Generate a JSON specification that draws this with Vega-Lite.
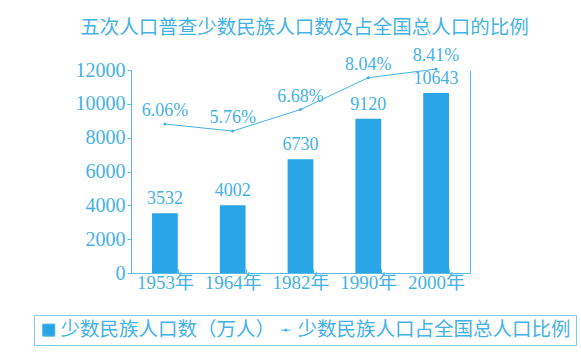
{
  "$schema": "https://vega.github.io/schema/vega-lite/v6.json",
  "autosize": {"type": "none"},
  "width": 339,
  "height": 203,
  "padding": {"left": 131, "top": 70, "right": 111, "bottom": 91},
  "background": "white",
  "title": {
    "text": "五次人口普查少数民族人口数及占全国总人口的比例",
    "font": "Noto Sans CJK SC",
    "fontSize": 19.5,
    "fontWeight": "normal",
    "color": "#45b2e6",
    "anchor": "middle",
    "offset": 9,
    "dx": 4
  },
  "config": {
    "view": {"stroke": null},
    "font": "Liberation Serif, Noto Sans CJK SC",
    "axis": {"grid": false}
  },
  "data": {
    "values": [
      {"year": "1953年", "pop": 3532, "pct": 6.06, "pctLabel": "6.06%"},
      {"year": "1964年", "pop": 4002, "pct": 5.76, "pctLabel": "5.76%"},
      {"year": "1982年", "pop": 6730, "pct": 6.68, "pctLabel": "6.68%"},
      {"year": "1990年", "pop": 9120, "pct": 8.04, "pctLabel": "8.04%"},
      {"year": "2000年", "pop": 10643, "pct": 8.41, "pctLabel": "8.41%"}
    ]
  },
  "encoding": {
    "x": {
      "field": "year",
      "type": "nominal",
      "sort": null,
      "scale": {"paddingInner": 0.62, "paddingOuter": 0.31},
      "axis": {
        "title": null,
        "labelAngle": 0,
        "labelFont": "Liberation Serif, Noto Sans CJK SC",
        "labelFontSize": 19,
        "labelColor": "#45b2e6",
        "labelPadding": 4,
        "domainColor": "#5bbbe8",
        "tickColor": "#5bbbe8",
        "tickSize": -4,
        "tickBand": "extent"
      }
    }
  },
  "layer": [
    {
      "encoding": {
        "y": {
          "field": "pop",
          "type": "quantitative",
          "scale": {"domain": [0, 12000]},
          "axis": {
            "title": null,
            "values": [0, 2000, 4000, 6000, 8000, 10000, 12000],
            "format": "d",
            "labelFont": "Liberation Serif",
            "labelFontSize": 20,
            "labelColor": "#45b2e6",
            "labelPadding": 2,
            "tickSize": 4,
            "tickColor": "#5bbbe8",
            "domainColor": "#5bbbe8",
            "labelBaseline": "middle"
          }
        }
      },
      "layer": [
        {
          "mark": {"type": "bar", "color": "#2aa6e8"},
          "encoding": {
            "color": {
              "datum": "少数民族人口数（万人）",
              "type": "nominal",
              "scale": {
                "domain": ["少数民族人口数（万人）", "少数民族人口占全国总人口比例"],
                "range": ["#2aa6e8", "#45b2e6"]
              },
              "legend": {
                "orient": "none",
                "legendX": -97,
                "legendY": 245,
                "direction": "horizontal",
                "title": null,
                "labelFont": "Noto Sans CJK SC",
                "labelFontSize": 19.5,
                "labelColor": "#45b2e6",
                "labelLimit": 0,
                "symbolSize": 144,
                "symbolType": "square",
                "columnPadding": 0,
                "labelOffset": 2,
                "padding": 5,
                "strokeColor": "#7fcbee",
                "encode": {
                  "symbols": {
                    "update": {
                      "shape": {"signal": "datum.value === '少数民族人口数（万人）' ? 'square' : 'M-0.8,0L0.8,0M-0.15,-0.15L0.15,-0.15L0.15,0.15L-0.15,0.15Z'"},
                      "fill": {"signal": "datum.value === '少数民族人口数（万人）' ? '#2aa6e8' : '#45b2e6'"},
                      "stroke": {"value": "#45b2e6"},
                      "strokeWidth": {"value": 1}
                    }
                  }
                }
              }
            }
          }
        },
        {
          "mark": {"type": "text", "dy": -5, "baseline": "bottom", "fontSize": 18, "color": "#45b2e6", "font": "Liberation Serif"},
          "encoding": {
            "text": {"field": "pop", "type": "quantitative", "format": "d"}
          }
        }
      ]
    },
    {
      "encoding": {
        "y": {
          "field": "pct",
          "type": "quantitative",
          "scale": {"domain": [-0.31, 8.37], "zero": false, "nice": false},
          "axis": {"title": null, "orient": "right", "labels": false, "ticks": false, "domainColor": "#5bbbe8"}
        }
      },
      "layer": [
        {
          "mark": {"type": "line", "color": "#45b2e6", "strokeWidth": 1, "point": {"filled": true, "size": 10, "color": "#45b2e6"}}
        },
        {
          "mark": {"type": "text", "dy": -4, "baseline": "bottom", "fontSize": 18, "color": "#45b2e6", "font": "Liberation Serif"},
          "encoding": {
            "text": {"field": "pctLabel", "type": "nominal"}
          }
        }
      ]
    }
  ],
  "resolve": {"scale": {"y": "independent"}}
}
